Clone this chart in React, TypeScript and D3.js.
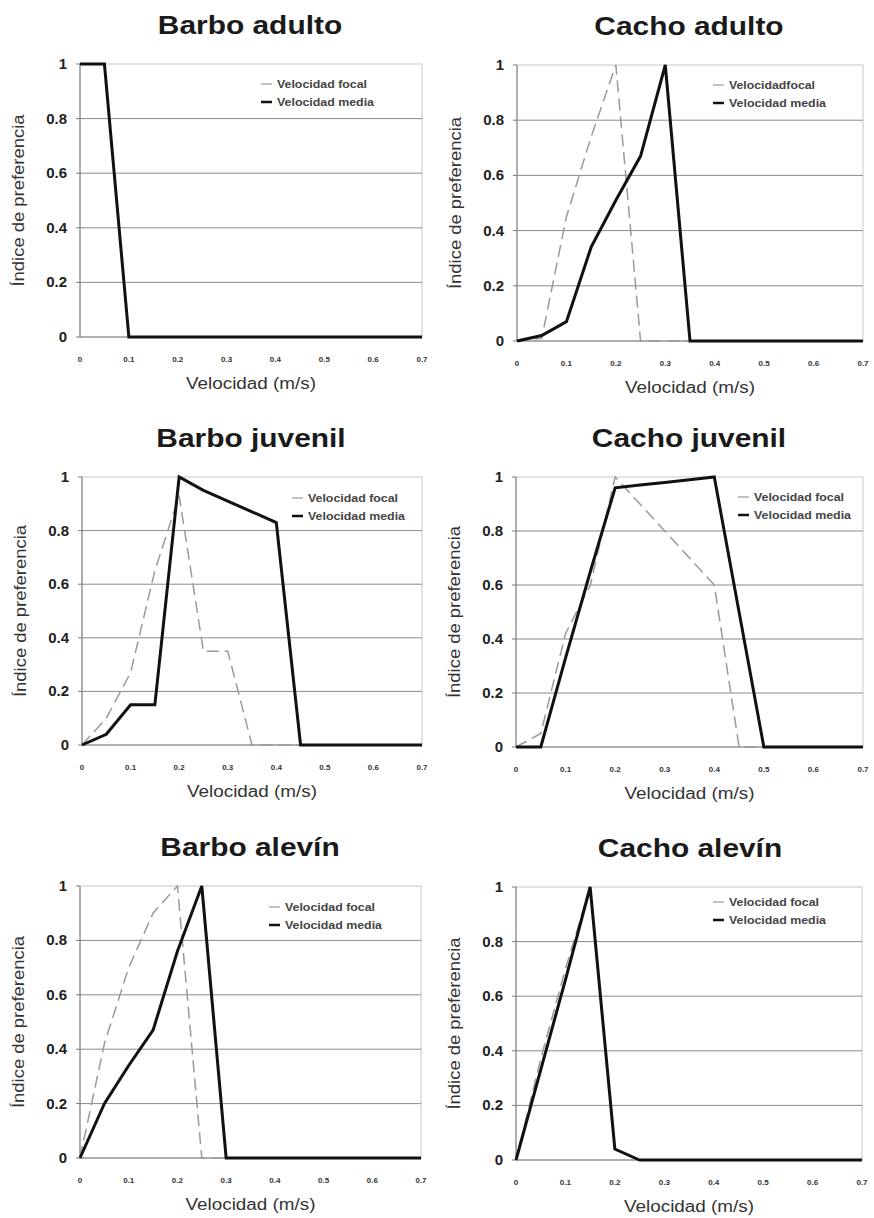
import React from 'react'
import * as d3 from 'd3'

// velocidad (m/s) sampled every 0.05
const VELOCIDAD = [0, 0.05, 0.1, 0.15, 0.2, 0.25, 0.3, 0.35, 0.4, 0.45, 0.5, 0.55, 0.6, 0.65, 0.7]

const BARBO_ADULTO_FOCAL = [1, 1, 0, 0, 0, 0, 0, 0, 0, 0, 0, 0, 0, 0, 0]
const BARBO_ADULTO_MEDIA = [1, 1, 0, 0, 0, 0, 0, 0, 0, 0, 0, 0, 0, 0, 0]
const CACHO_ADULTO_FOCAL = [0, 0.01, 0.45, 0.74, 1, 0, 0, 0, 0, 0, 0, 0, 0, 0, 0]
const CACHO_ADULTO_MEDIA = [0, 0.02, 0.07, 0.34, 0.51, 0.67, 1, 0, 0, 0, 0, 0, 0, 0, 0]
const BARBO_JUVENIL_FOCAL = [0, 0.1, 0.27, 0.65, 0.93, 0.35, 0.35, 0, 0, 0, 0, 0, 0, 0, 0]
const BARBO_JUVENIL_MEDIA = [0, 0.04, 0.15, 0.15, 1, 0.95, 0.91, 0.87, 0.83, 0, 0, 0, 0, 0, 0]
const CACHO_JUVENIL_FOCAL = [0, 0.05, 0.42, 0.6, 1, 0.9, 0.8, 0.7, 0.6, 0, 0, 0, 0, 0, 0]
const CACHO_JUVENIL_MEDIA = [0, 0, 0.33, 0.65, 0.96, 0.97, 0.98, 0.99, 1, 0.5, 0, 0, 0, 0, 0]
const BARBO_ALEVIN_FOCAL = [0, 0.42, 0.7, 0.9, 1, 0, 0, 0, 0, 0, 0, 0, 0, 0, 0]
const BARBO_ALEVIN_MEDIA = [0, 0.2, 0.34, 0.47, 0.76, 1, 0, 0, 0, 0, 0, 0, 0, 0, 0]
const CACHO_ALEVIN_FOCAL = [0, 0.37, 0.7, 1, 0.04, 0, 0, 0, 0, 0, 0, 0, 0, 0, 0]
const CACHO_ALEVIN_MEDIA = [0, 0.33, 0.66, 1, 0.04, 0, 0, 0, 0, 0, 0, 0, 0, 0, 0]

const X_TICKS = [0, 0.1, 0.2, 0.3, 0.4, 0.5, 0.6, 0.7]
const Y_TICKS = [0, 0.2, 0.4, 0.6, 0.8, 1]

const PANELS = [
  { title: 'Barbo adulto', focal: BARBO_ADULTO_FOCAL, media: BARBO_ADULTO_MEDIA, focalLabel: 'Velocidad focal',
    box: { l: 80, r: 422, t: 64, b: 337 }, titleX: 250, leg: { dx: -145, dy: 20 } },
  { title: 'Cacho adulto', focal: CACHO_ADULTO_FOCAL, media: CACHO_ADULTO_MEDIA, focalLabel: 'Velocidadfocal',
    box: { l: 517, r: 863, t: 65, b: 341 }, titleX: 689, leg: { dx: -134, dy: 20 } },
  { title: 'Barbo juvenil', focal: BARBO_JUVENIL_FOCAL, media: BARBO_JUVENIL_MEDIA, focalLabel: 'Velocidad focal',
    box: { l: 82, r: 422, t: 477, b: 745 }, titleX: 251, leg: { dx: -114, dy: 21 } },
  { title: 'Cacho juvenil', focal: CACHO_JUVENIL_FOCAL, media: CACHO_JUVENIL_MEDIA, focalLabel: 'Velocidad focal',
    box: { l: 516, r: 863, t: 477, b: 747 }, titleX: 689, leg: { dx: -109, dy: 20 } },
  { title: 'Barbo alevín', focal: BARBO_ALEVIN_FOCAL, media: BARBO_ALEVIN_MEDIA, focalLabel: 'Velocidad focal',
    box: { l: 80, r: 421, t: 886, b: 1158 }, titleX: 250, leg: { dx: -136, dy: 21 } },
  { title: 'Cacho alevín', focal: CACHO_ALEVIN_FOCAL, media: CACHO_ALEVIN_MEDIA, focalLabel: 'Velocidad focal',
    box: { l: 516, r: 862, t: 887, b: 1160 }, titleX: 690, leg: { dx: -133, dy: 15 } },
]

const FONT = 'Arial, "Liberation Sans", Helvetica, sans-serif'

function Panel({ p }: { p: typeof PANELS[number] }) {
  const { l, r, t, b } = p.box
  const x = d3.scaleLinear().domain([0, 0.7]).range([l, r])
  const y = d3.scaleLinear().domain([0, 1]).range([b, t])
  const line = d3.line<number>().x((_, i) => x(VELOCIDAD[i])).y(d => y(d))
  const lx = r + p.leg.dx
  const ly = t + p.leg.dy

  return (
    <g>
      {/* reference title is a bit stretched horizontally */}
      <text transform={`translate(${p.titleX},${t - 30}) scale(1.15,1)`} textAnchor="middle"
        fontFamily={FONT} fontWeight="bold" fontSize={26} fill="#1a1a1a">{p.title}</text>

      {/* frame + grid */}
      <rect x={l} y={t} width={r - l} height={b - t} fill="none" stroke="#c8c8c8" strokeWidth={1} />
      {Y_TICKS.filter(v => v > 0 && v < 1).map(v => (
        <line key={v} x1={l} x2={r} y1={y(v)} y2={y(v)} stroke="#8a8a8a" strokeWidth={1} />
      ))}
      <line x1={l} x2={l} y1={t} y2={b} stroke="#7a7a7a" strokeWidth={1} />
      <line x1={l} x2={r} y1={b} y2={b} stroke="#7a7a7a" strokeWidth={1.2} />
      {Y_TICKS.map(v => (
        <g key={v}>
          <line x1={l - 4} x2={l} y1={y(v)} y2={y(v)} stroke="#7a7a7a" />
          <text x={l - 13} y={y(v) + 5} textAnchor="end" fontFamily={FONT} fontWeight="bold"
            fontSize={15} fill="#222">{String(v)}</text>
        </g>
      ))}
      {X_TICKS.map(v => (
        <text key={v} x={x(v)} y={b + 25} textAnchor="middle" fontFamily={FONT} fontWeight="bold"
          fontSize={8} fill="#333">{String(v)}</text>
      ))}

      <text x={(l + r) / 2} y={b + 52} textAnchor="middle" fontFamily={FONT} fontSize={16}
        textLength={130} lengthAdjust="spacingAndGlyphs" fill="#333">Velocidad (m/s)</text>
      <text transform={`translate(${l - 56},${(t + b) / 2}) rotate(-90)`} textAnchor="middle"
        fontFamily={FONT} fontSize={16} textLength={172} lengthAdjust="spacingAndGlyphs"
        fill="#333">Índice de preferencia</text>

      {/* series */}
      <path d={line(p.focal) ?? ''} fill="none" stroke="#9a9a9a" strokeWidth={1.5} strokeDasharray="12,6" />
      <path d={line(p.media) ?? ''} fill="none" stroke="#111" strokeWidth={3} strokeLinejoin="miter" />

      {/* legend */}
      <line x1={lx - 16} x2={lx - 5} y1={ly} y2={ly} stroke="#9a9a9a" strokeWidth={1.2} />
      <text x={lx} y={ly + 3.5} fontFamily={FONT} fontWeight="bold" fontSize={10}
        textLength={p.focalLabel.length > 14 ? 90 : 86} lengthAdjust="spacingAndGlyphs" fill="#444">{p.focalLabel}</text>
      <line x1={lx - 16} x2={lx - 5} y1={ly + 18} y2={ly + 18} stroke="#111" strokeWidth={2.5} />
      <text x={lx} y={ly + 21.5} fontFamily={FONT} fontWeight="bold" fontSize={10}
        textLength={97} lengthAdjust="spacingAndGlyphs" fill="#444">Velocidad media</text>
    </g>
  )
}

export default function App() {
  return (
    <div style={{ position: 'absolute', left: 0, top: 0 }}>
      <svg width={874} height={1218} style={{ display: 'block', background: '#fff' }}>
        {PANELS.map(p => <Panel key={p.title} p={p} />)}
      </svg>
    </div>
  )
}
